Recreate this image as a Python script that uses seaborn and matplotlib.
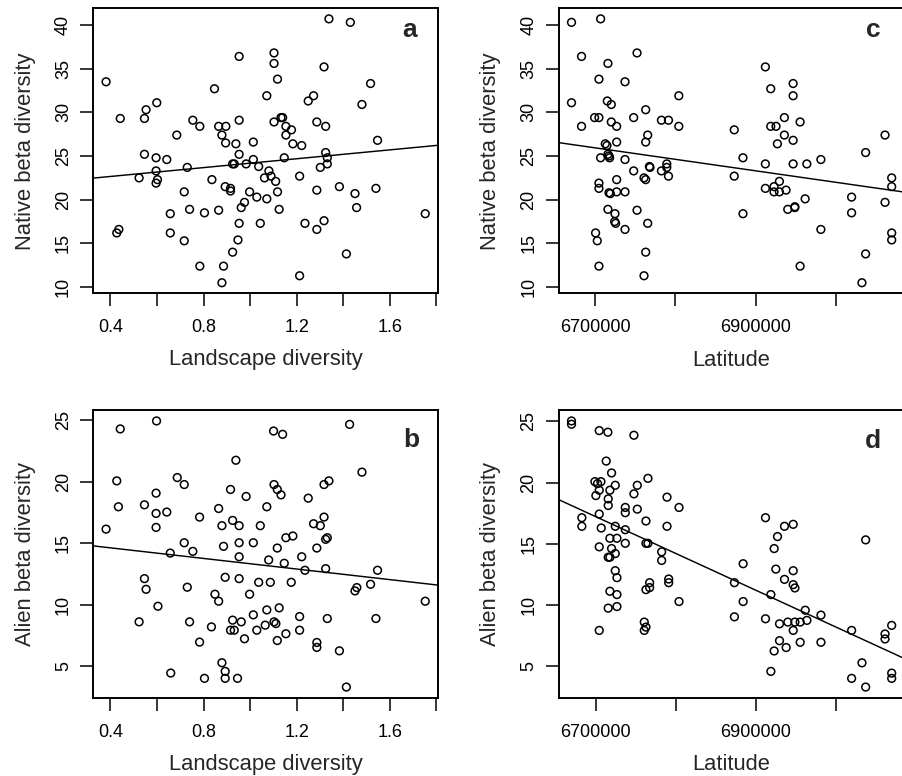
import numpy as np
import matplotlib
matplotlib.use('Agg')
import matplotlib.pyplot as plt
import seaborn as sns

# panel a: landscape diversity vs native beta diversity
landscape_a = [0.381, 0.442, 0.427, 0.436, 0.523, 0.546, 0.546, 0.553, 0.599, 0.596,
               0.596, 0.602, 0.596, 0.642, 0.657, 0.657, 0.685, 0.717, 0.717, 0.730,
               0.740, 0.754, 0.784, 0.784, 0.804, 0.836, 0.847, 0.865, 0.865, 0.879,
               0.896, 0.895, 0.893, 0.886, 0.879, 0.916, 0.916, 0.925, 0.932, 0.925,
               0.939, 0.953, 0.953, 0.953, 0.962, 0.976, 0.953, 0.948, 0.983, 0.998,
               1.014, 1.014, 1.029, 1.037, 1.044, 1.072, 1.072, 1.062, 1.081, 1.090,
               1.103, 1.103, 1.118, 1.103, 1.133, 1.140, 1.110, 1.118, 1.125, 1.154,
               1.154, 1.178, 1.184, 1.147, 1.213, 1.222, 1.236, 1.213, 1.250, 1.273,
               1.287, 1.287, 1.287, 1.302, 1.318, 1.325, 1.325, 1.332, 1.332, 1.339,
               1.318, 1.384, 1.414, 1.431, 1.451, 1.458, 1.481, 1.518, 1.541, 1.548,
               1.753]
native_a = [33.5, 29.3, 16.2, 16.6, 22.5, 25.2, 29.3, 30.3, 31.1, 24.8,
            23.3, 22.3, 21.9, 24.6, 18.4, 16.2, 27.4, 20.9, 15.3, 23.7,
            18.9, 29.1, 28.4, 12.4, 18.5, 22.3, 32.7, 28.4, 18.8, 27.4,
            28.4, 26.5, 21.5, 12.4, 10.5, 21.3, 21.0, 24.1, 24.1, 14.0,
            26.4, 36.4, 29.1, 25.2, 19.1, 19.7, 17.3, 15.4, 24.1, 20.9,
            26.6, 24.6, 20.3, 23.8, 17.3, 31.9, 20.1, 22.5, 23.3, 22.7,
            36.8, 35.6, 33.8, 28.9, 29.4, 29.4, 22.1, 20.9, 18.9, 28.4,
            27.4, 28.0, 26.4, 24.8, 22.7, 26.2, 17.3, 11.3, 31.3, 31.9,
            28.9, 21.1, 16.6, 23.7, 35.2, 28.4, 25.4, 24.8, 24.1, 40.7,
            17.6, 21.5, 13.8, 40.3, 20.7, 19.1, 30.9, 33.3, 21.3, 26.8,
            18.4]

# panel c: latitude vs native beta diversity
latitude_c = [6670400, 6706700, 6682900, 6715800, 6704600, 6737100, 6752100, 6670400, 6682900, 6699200,
              6704600, 6715000, 6720000, 6720000, 6726700, 6712500, 6714600, 6726700, 6715800, 6717100,
              6717900, 6706700, 6737100, 6747900, 6762900, 6765400, 6762900, 6747900, 6760800, 6762900,
              6767500, 6768300, 6704600, 6704600, 6726700, 6717100, 6718800, 6726700, 6737100, 6715800,
              6724600, 6724200, 6725400, 6737100, 6752100, 6765400, 6700400, 6702500, 6704600, 6762900,
              6760800, 6782500, 6791300, 6804200, 6804200, 6789200, 6789200, 6782500, 6791300, 6873300,
              6884200, 6873300, 6884200, 6912100, 6918800, 6918800, 6925400, 6935800, 6946700, 6946700,
              6935800, 6946700, 6927100, 6955400, 6912100, 6946700, 6963800, 6981300, 6912100, 6922900,
              6929600, 6922900, 6929600, 6937900, 6940000, 6948800, 6948800, 6961700, 6955400, 6981300,
              7019600, 7019600, 7037100, 7037100, 7032500, 7061300, 7069600, 7069600, 7061300, 7069600,
              7069600]
native_c = [40.3, 40.7, 36.4, 35.6, 33.8, 33.5, 36.8, 31.1, 28.4, 29.4,
            29.4, 31.3, 30.9, 28.9, 28.4, 26.4, 26.2, 26.6, 25.2, 25.0,
            24.8, 24.8, 24.6, 29.4, 30.3, 27.4, 26.6, 23.3, 22.5, 22.3,
            23.8, 23.7, 21.9, 21.3, 22.3, 20.8, 20.7, 20.9, 20.9, 18.9,
            18.4, 17.5, 17.3, 16.6, 18.8, 17.3, 16.2, 15.3, 12.4, 14.0,
            11.3, 29.1, 29.1, 31.9, 28.4, 24.1, 23.7, 23.3, 22.7, 28.0,
            24.8, 22.7, 18.4, 35.2, 32.7, 28.4, 28.4, 29.4, 33.3, 31.9,
            27.4, 26.8, 26.4, 28.9, 24.1, 24.1, 24.1, 24.6, 21.3, 21.5,
            22.1, 20.9, 20.9, 21.1, 18.9, 19.1, 19.2, 20.1, 12.4, 16.6,
            20.3, 18.5, 25.4, 13.8, 10.5, 27.4, 22.5, 21.5, 19.7, 16.2,
            15.4]

# panel b: landscape diversity vs alien beta diversity
landscape_b = [0.381, 0.427, 0.434, 0.523, 0.546, 0.546, 0.553, 0.596, 0.596, 0.596,
               0.604, 0.642, 0.657, 0.659, 0.687, 0.717, 0.717, 0.754, 0.730, 0.740,
               0.783, 0.783, 0.804, 0.834, 0.849, 0.865, 0.865, 0.879, 0.886, 0.893,
               0.879, 0.893, 0.893, 0.916, 0.925, 0.925, 0.916, 0.932, 0.939, 0.953,
               0.953, 0.953, 0.953, 0.962, 0.976, 0.946, 0.983, 0.998, 1.014, 1.014,
               1.029, 1.037, 1.044, 1.072, 1.080, 1.087, 1.072, 1.065, 1.103, 1.117,
               1.133, 1.117, 1.103, 1.111, 1.125, 1.117, 1.147, 1.154, 1.184, 1.154,
               1.177, 1.213, 1.213, 1.222, 1.236, 1.250, 1.273, 1.302, 1.287, 1.287,
               1.287, 1.318, 1.339, 1.318, 1.325, 1.332, 1.325, 1.332, 1.384, 1.414,
               1.451, 1.459, 1.481, 1.518, 1.541, 1.548, 1.753, 0.442, 0.598, 1.101,
               1.140, 1.428]
alien_b = [16.15, 20.08, 17.97, 8.60, 18.13, 12.12, 11.25, 19.08, 17.43, 16.29,
           9.87, 17.54, 14.20, 4.43, 20.35, 19.78, 15.04, 14.34, 11.42, 8.60,
           17.13, 6.95, 4.00, 8.19, 10.85, 17.83, 10.28, 16.43, 14.75, 12.23,
           5.27, 4.57, 4.00, 19.38, 16.86, 8.74, 7.92, 7.92, 21.76, 16.43,
           15.04, 13.90, 12.12, 8.60, 7.22, 4.00, 18.81, 10.85, 15.04, 9.17,
           7.92, 11.82, 16.43, 17.97, 13.64, 11.82, 9.57, 8.33, 19.78, 19.38,
           18.94, 14.61, 8.60, 8.46, 9.74, 7.08, 13.37, 15.45, 15.59, 7.63,
           11.82, 9.03, 7.92, 13.90, 12.80, 18.67, 16.59, 16.43, 14.61, 6.92,
           6.52, 19.78, 20.08, 17.13, 15.32, 15.45, 12.93, 8.87, 6.24, 3.29,
           11.12, 11.39, 20.79, 11.66, 8.87, 12.80, 10.28, 24.31, 24.96, 24.14,
           23.87, 24.68]

# panel d: latitude vs alien beta diversity
latitude_d = [6682900, 6682900, 6713300, 6720000, 6699200, 6702500, 6706700, 6704600, 6700400, 6717900,
              6724600, 6715800, 6715800, 6704600, 6707100, 6724600, 6704600, 6717900, 6726700, 6720000,
              6724600, 6715800, 6717900, 6724600, 6726700, 6717900, 6726700, 6715800, 6726700, 6704600,
              6737100, 6737100, 6737100, 6737100, 6747900, 6752100, 6765400, 6752100, 6762900, 6762900,
              6765400, 6782500, 6782500, 6767500, 6767500, 6762900, 6760800, 6762900, 6760800, 6789200,
              6789200, 6804200, 6791300, 6791300, 6804200, 6873300, 6884200, 6884200, 6873300, 6912100,
              6912100, 6918800, 6922900, 6927100, 6935800, 6946700, 6925000, 6935800, 6946700, 6946700,
              6948800, 6929600, 6940000, 6948800, 6955400, 6946700, 6961700, 6963800, 6981300, 6929600,
              6922900, 6937900, 6955400, 6981300, 6918800, 7019600, 7032500, 7019600, 7037100, 7037100,
              7061300, 7061300, 7069600, 7069600, 7069600, 6670000, 6670000, 6704600, 6715400, 6747900]
alien_d = [17.13, 16.43, 21.76, 20.79, 20.08, 19.92, 20.08, 19.38, 18.94, 19.38,
           19.78, 18.67, 18.13, 17.43, 16.29, 16.43, 14.75, 15.45, 15.45, 14.61,
           14.20, 13.90, 13.90, 12.80, 12.23, 11.12, 10.85, 9.74, 9.87, 7.92,
           17.97, 17.54, 16.15, 15.04, 19.08, 19.78, 20.35, 17.83, 16.86, 15.04,
           15.04, 14.34, 13.64, 11.82, 11.42, 11.25, 8.60, 8.19, 7.92, 18.81,
           16.43, 17.97, 12.12, 11.82, 10.28, 11.82, 13.37, 10.28, 9.03, 17.13,
           8.87, 10.85, 14.61, 15.59, 16.43, 16.59, 12.93, 12.09, 12.80, 11.66,
           11.39, 8.46, 8.60, 8.60, 8.60, 7.92, 9.57, 8.74, 9.17, 7.08,
           6.24, 6.52, 6.95, 6.95, 4.57, 7.92, 5.27, 4.00, 3.29, 15.32,
           7.63, 7.22, 8.33, 4.43, 4.00, 25.04, 24.77, 24.25, 24.12, 23.87]

landscape_ticks = [0.4, 0.6, 0.8, 1.0, 1.2, 1.4, 1.6, 1.8]
landscape_labels = ['0.4', '', '0.8', '', '1.2', '', '1.6', '']
latitude_ticks = [6700000, 6800000, 6900000, 7000000]
latitude_labels = ['6700000', '', '6900000', '']
native_ticks = [10, 15, 20, 25, 30, 35, 40]
alien_ticks = [5, 10, 15, 20, 25]

sns.set_style('ticks')
plt.rcParams['font.family'] = ['Liberation Sans', 'DejaVu Sans']

W, H = 903, 776
fig = plt.figure(figsize=(W / 100, H / 100), dpi=100)


def padded(v):
    # R style 4% extension of the data range
    lo, hi = min(v), max(v)
    r = hi - lo
    return lo - 0.04 * r, hi + 0.04 * r


def panel(box, x, y, xticks, xlabels, yticks, xlabel, ylabel, letter, letter_pos):
    x0, y0, x1, y1 = box
    ax = fig.add_axes([x0 / W, 1 - y1 / H, (x1 - x0) / W, (y1 - y0) / H])
    ax.set_xlim(padded(x))
    ax.set_ylim(padded(y))
    sns.regplot(x=np.array(x), y=np.array(y), ax=ax, ci=None, truncate=False,
                scatter_kws=dict(s=31, facecolors='none', edgecolors='black',
                                 linewidths=1.1, alpha=1),
                line_kws=dict(color='black', lw=1.05))
    ax.set_xticks(xticks, xlabels)
    ax.set_yticks(yticks, [str(t) for t in yticks])
    for lbl in ax.get_yticklabels():
        lbl.set_rotation(90)
        lbl.set_va('center')
    ax.tick_params(direction='out', length=9.6, width=1.1, colors='black', labelsize=13)
    ax.tick_params(axis='x', pad=9.0)
    ax.tick_params(axis='y', pad=5.8)
    for s in ax.spines.values():
        s.set_color('black')
        s.set_linewidth(1.4)
    w_px, h_px = x1 - x0, y1 - y0
    ax.set_xlabel(xlabel, fontsize=15.8, va='center')
    ax.xaxis.set_label_coords(0.5, -66.7 / h_px)
    ax.set_ylabel(ylabel, fontsize=15.8, va='center')
    ax.yaxis.set_label_coords(-68.0 / w_px, 0.5)
    fig.text(letter_pos[0] / W, 1 - letter_pos[1] / H, letter, fontsize=19,
             fontweight='bold', ha='center', va='baseline')
    return ax


panel((93.3, 8.3, 438.0, 293.3), landscape_a, native_a, landscape_ticks, landscape_labels,
      native_ticks, 'Landscape diversity', 'Native beta diversity', 'a', (410.0, 36.7))
panel((558.7, 8.3, 904.5, 293.3), latitude_c, native_c, latitude_ticks, latitude_labels,
      native_ticks, 'Latitude', 'Native beta diversity', 'c', (873.3, 36.7))
panel((93.3, 410.3, 438.0, 697.7), landscape_b, alien_b, landscape_ticks, landscape_labels,
      alien_ticks, 'Landscape diversity', 'Alien beta diversity', 'b', (411.3, 447.0))
panel((558.7, 410.3, 904.5, 697.7), latitude_d, alien_d, latitude_ticks, latitude_labels,
      alien_ticks, 'Latitude', 'Alien beta diversity', 'd', (873.3, 447.7))

fig.savefig('out.png', dpi=100, facecolor='white')
